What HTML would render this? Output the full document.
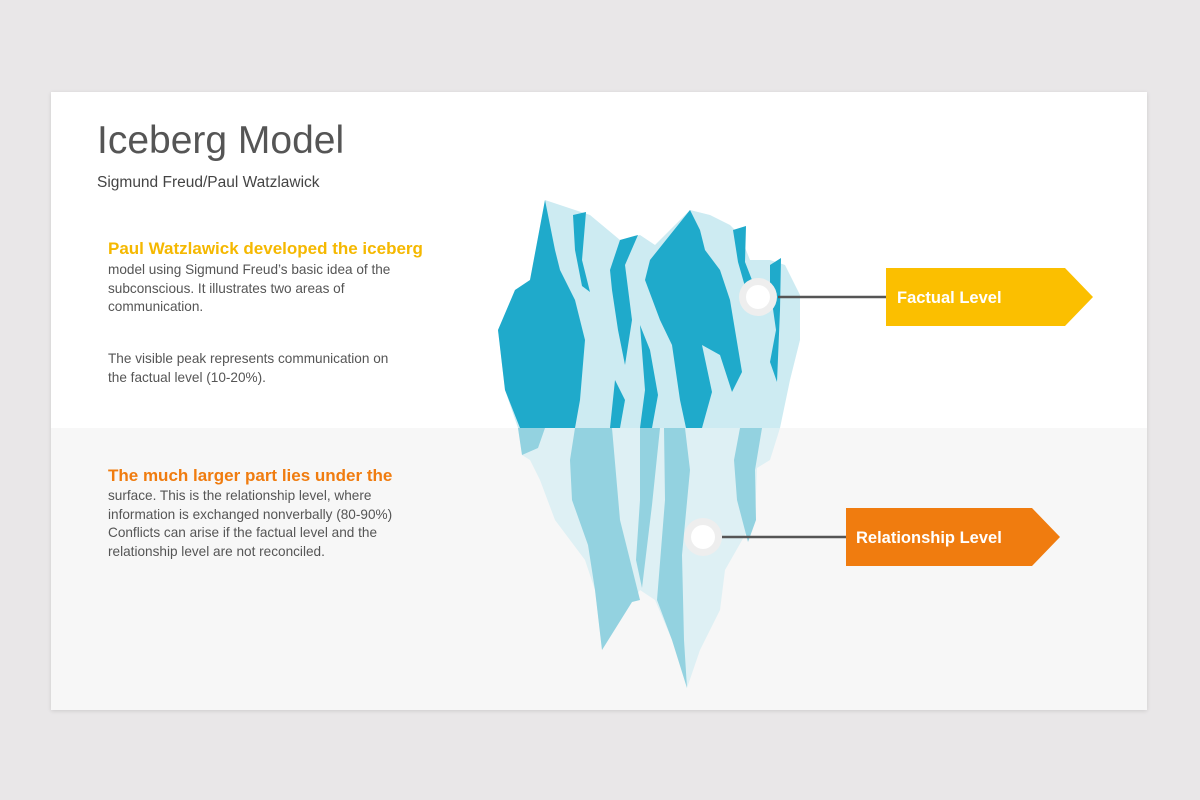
<!DOCTYPE html>
<html><head><style>
body{margin:0;width:1200px;height:800px;background:#e9e7e8;font-family:"Liberation Sans",sans-serif;position:relative;overflow:hidden}
.card{position:absolute;left:51px;top:92px;width:1096px;height:618px;background:#fff;box-shadow:0 1px 4px rgba(0,0,0,.12)}
.low{position:absolute;left:51px;top:428px;width:1096px;height:282px;background:#f7f7f7}
.t{position:absolute;color:#555}
</style></head><body>
<div class="card"></div><div class="low"></div>
<div class="t" style="left:97px;top:119px;font-size:39px;color:#555">Iceberg Model</div>
<div class="t" style="left:97px;top:174px;font-size:15.5px;color:#444">Sigmund Freud/Paul Watzlawick</div>
<div class="t" style="left:108px;top:239px;font-size:17px;font-weight:bold;color:#f5b800">Paul Watzlawick developed the iceberg</div>
<div class="t" style="left:108px;top:261px;font-size:13.6px;line-height:18.5px;color:#555">model using Sigmund Freud’s basic idea of the<br>subconscious. It illustrates two areas of<br>communication.</div>
<div class="t" style="left:108px;top:350px;font-size:13.6px;line-height:18.5px;color:#555">The visible peak represents communication on<br>the factual level (10-20%).</div>
<div class="t" style="left:108px;top:466px;font-size:17px;font-weight:bold;color:#f07c0f">The much larger part lies under the</div>
<div class="t" style="left:108px;top:487px;font-size:13.6px;line-height:18.5px;color:#555">surface. This is the relationship level, where<br>information is exchanged nonverbally (80-90%)<br>Conflicts can arise if the factual level and the<br>relationship level are not reconciled.</div>
<svg width="1200" height="800" style="position:absolute;left:0;top:0">
<polygon fill="#cdebf2" points="498,330 515,290 530,280 545,200 575,210 590,215 620,240 640,235 655,245 690,210 710,215 730,225 740,235 750,260 770,260 785,265 800,295 800,340 790,380 780,428 518,428 505,390"/>
<g fill="#1faacb">
<polygon points="498,330 515,290 530,280 545,200 555,250 560,270 575,300 585,340 580,400 575,428 520,428 505,390"/>
<polygon points="573,215 586,212 582,260 590,292 582,286 575,250"/>
<polygon points="620,240 638,235 625,265 632,320 625,365 618,330 612,290 610,270"/>
<polygon points="650,260 690,210 700,230 705,250 720,270 730,300 735,330 742,372 732,392 720,355 702,345 712,392 702,428 686,428 680,400 672,345 660,320 645,280"/>
<polygon points="733,230 746,226 745,262 752,280 746,290 738,262"/>
<polygon points="770,265 781,258 780,310 777,382 770,362 776,330 770,288"/>
<polygon points="640,325 650,350 658,395 652,428 640,428 645,390"/>
<polygon points="615,380 625,400 620,428 610,428"/>
</g>
<polygon fill="#def0f4" points="518,428 780,428 770,460 757,468 755,520 745,535 725,570 720,610 700,650 687,688 672,640 655,600 640,590 630,605 602,650 595,590 585,560 555,520 540,480 530,460 522,455"/>
<g fill="#93d2e0">
<polygon points="518,428 545,428 538,448 522,455"/>
<polygon points="575,428 612,428 620,520 640,600 632,602 602,650 595,590 588,545 572,500 570,460"/>
<polygon points="640,428 660,428 652,505 642,588 636,560 640,500"/>
<polygon points="664,428 685,428 690,470 682,555 684,640 687,688 672,640 657,600 665,500"/>
<polygon points="740,428 762,428 755,470 756,520 748,542 737,500 734,460"/>
</g>
<line x1="778" y1="297" x2="886" y2="297" stroke="#555" stroke-width="2.5"/>
<line x1="722" y1="537" x2="846" y2="537" stroke="#555" stroke-width="2.5"/>
<circle cx="758" cy="297" r="19" fill="#eeeeee"/><circle cx="758" cy="297" r="12" fill="#fff"/>
<circle cx="703" cy="537" r="19" fill="#eeeeee"/><circle cx="703" cy="537" r="12" fill="#fff"/>
<polygon fill="#fbbf00" points="886,268 1065,268 1093,297 1065,326 886,326"/>
<polygon fill="#f07c0f" points="846,508 1032,508 1060,537 1032,566 846,566"/>
<text x="897" y="303" fill="#fff" font-family="Liberation Sans,sans-serif" font-size="16.5" font-weight="bold">Factual Level</text>
<text x="856" y="543" fill="#fff" font-family="Liberation Sans,sans-serif" font-size="16.5" font-weight="bold">Relationship Level</text>
</svg>
</body></html>
